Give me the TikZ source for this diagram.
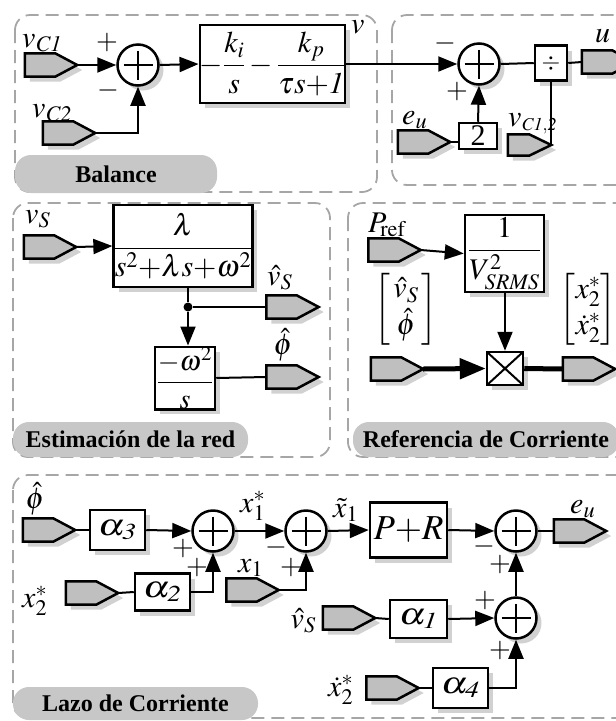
\documentclass[tikz,border=0pt]{standalone}
\usepackage{amsmath}
\usepackage{graphicx}
\IfFileExists{mathptmx.sty}{\usepackage{mathptmx}}{}
\usepackage[no-math]{fontspec}
\setmainfont{Liberation Serif}
\usetikzlibrary{arrows.meta,shadows}

\def\wide#1{\scalebox{1.35}[1.1]{#1}}

\tikzset{
	shd/.style={drop shadow={shadow xshift=5pt, shadow yshift=-5pt, fill=black!18, opacity=1}},
	blk/.style={draw, line width=2.5pt, fill=white, inner sep=0pt, shd, font=\fontsize{28}{30}\selectfont},
	port/.style={inner sep=0pt, minimum width=52pt, minimum height=23pt,
		append after command={\pgfextra{
			\fill[black!18] ([shift={(5pt,-5pt)}]\tikzlastnode.north west) -- ([shift={(-17pt,-5pt)}]\tikzlastnode.north east)
				-- ([shift={(5pt,-5pt)}]\tikzlastnode.east) -- ([shift={(-17pt,-5pt)}]\tikzlastnode.south east)
				-- ([shift={(5pt,-5pt)}]\tikzlastnode.south west) -- cycle;
			\draw[line width=2.5pt, fill=black!25] (\tikzlastnode.north west) -- ([xshift=-22pt]\tikzlastnode.north east)
				-- (\tikzlastnode.east) -- ([xshift=-22pt]\tikzlastnode.south east) -- (\tikzlastnode.south west) -- cycle;}}},
	sum/.style={circle, draw, line width=2.5pt, fill=white, inner sep=0pt, minimum size=41pt, shd,
		path picture={\draw[line width=2.5pt] ([yshift=-6pt]path picture bounding box.north) -- ([yshift=6pt]path picture bounding box.south);
			\draw[line width=2.5pt] ([xshift=6pt]path picture bounding box.west) -- ([xshift=-6pt]path picture bounding box.east);}},
	con/.style={line width=2pt},
	arr/.style={line width=2pt, -{Triangle[length=19pt, width=15pt]}},
	thk/.style={line width=5pt},
	thkarr/.style={line width=5pt, -{Triangle[length=26pt, width=20pt]}},
	lbl/.style={inner sep=0pt, font=\fontsize{30}{30}\selectfont},
	sgn/.style={inner sep=0pt, font=\fontsize{28}{28}\selectfont},
	panel/.style={draw=black!35, line width=1.8pt, dash pattern=on 13pt off 7pt, rounded corners=15pt},
	tag/.style={fill=black!22, rounded corners=16pt, inner sep=0pt, font=\fontsize{24}{24}\selectfont\bfseries}
}

\begin{document}
\begin{tikzpicture}[x=1pt, y=-1pt]
			%%%%% START %%%%%
			\useasboundingbox (0, 0) rectangle (616, 721);
			\clip (0, 0) rectangle (616, 721);
			
			% panels
			\draw[panel] (15, 15) rectangle (377, 192);
			\draw[panel] (392, 15) rectangle (660, 185);
			\draw[panel] (13, 203) rectangle (330, 457);
			\draw[panel] (348, 203) rectangle (660, 457);
			\draw[panel] (13, 475) rectangle (660, 718);
			
			\node[tag, minimum width=202pt, minimum height=38pt] (tbal) at (116, 174) {Balance};
			\node[tag, minimum width=235pt, minimum height=35pt] (test) at (130.5, 439.5) {Estimación de la red};
			\node[tag, minimum width=266pt, minimum height=35pt] (tref) at (486, 439.5) {Referencia de Corriente};
			\node[tag, minimum width=245pt, minimum height=33pt] (tlaz) at (135.5, 703.5) {Lazo de Corriente};
			
			%%%%% Balance %%%%%
			\node[port] (vc1) at (51, 65) {};
			\node[port] (vc2) at (69, 133) {};
			\node[sum] (s1) at (138, 65) {};
			\node[blk, minimum width=141pt, minimum height=78pt, font=\fontsize{30}{32}\selectfont] (b1) at (272.5, 64) {$-\dfrac{k_i}{s}-\dfrac{k_p}{\tau s{+}\mathit{1}}$};
			\node[lbl, anchor=base west] (lvc1) at (22, 47) {$v_{\mathit{C1}}$};
			\node[lbl, anchor=base west] (lvc2) at (32, 117) {$v_{\mathit{C2}}$};
			\node[lbl, anchor=base west] (lv) at (351, 33) {$v$};
			\node[sgn] (p1) at (107, 43) {$+$};
			\node[sgn] (m1) at (108, 90) {$-$};
			
			\node[sum] (s2) at (479, 64) {};
			
			\draw[arr] (vc1.east) -- (s1.west);
			\draw[arr] (vc2.east) -| (s1.south);
			\draw[arr] (s1.east) -- (b1.west);
			\draw[arr] (b1.east) -- (s2.west);
			
			%%%%% u %%%%%
			\node[blk, minimum width=38pt, minimum height=26pt, font=\fontsize{30}{30}\selectfont] (k2) at (478, 136) {2};
			\node[port] (eu) at (424, 142) {};
			\node[blk, minimum width=32pt, minimum height=35pt, font=\fontsize{24}{24}\selectfont] (dv) at (551, 63) {$\div$};
			\node[port, minimum width=43pt, minimum height=21pt] (vc12) at (529.5, 145) {};
			\node[port] (u) at (608, 62) {};
			\node[lbl, anchor=base west] (leu) at (402, 124) {$e_u$};
			\node[lbl, anchor=base west] (lvc12) at (508, 126) {$v_{\scriptscriptstyle\mathit{C1,2}}$};
			\node[lbl, anchor=base west] (lu) at (595, 42) {$u$};
			\node[sgn] (m2) at (445, 43) {$-$};
			\node[sgn] (p2) at (457, 92) {$+$};
			
			\draw[arr] (k2.north) -- (s2.south);
			\draw[con] (eu.east) -- (eu.east -| k2.west);
			\draw[con] (s2.east) -- (dv.west);
			\draw[con] (vc12.east) -- (vc12.east |- dv.south);
			\draw[con] (dv.east) -- (u.west);
			
			%%%%% Estimacion %%%%%
			\node[port] (vs) at (50, 247) {};
			\node[blk, minimum width=130pt, minimum height=82pt, font=\fontsize{30}{32}\selectfont] (lam) at (183, 246) {$\dfrac{\lambda}{s^2{+}\lambda s{+}\omega^2}$};
			\node[circle, fill, inner sep=0pt, minimum size=9pt] (dt) at (188, 307) {};
			\node[port] (vh) at (292.5, 307) {};
			\node[blk, minimum width=60pt, minimum height=55pt] (wb) at (185, 378) {$\dfrac{-\omega^2}{s}$};
			\node[port] (ph) at (292.5, 377) {};
			\node[lbl, anchor=base west] (lvs) at (25, 223) {$v_S$};
			\node[lbl, anchor=base west] (lvh) at (267, 285) {$\hat{v}_S$};
			\node[lbl] (lph) at (283, 345) {$\hat{\phi}$};
			
			\draw[arr] (vs.east) -- (lam.west);
			\draw[con] (lam.south -| dt) -- (dt);
			\draw[con] (dt) -- (vh.west);
			\draw[arr] (dt) -- (dt |- wb.north);
			\draw[con] (wb.east) -- (ph.west);
			
			%%%%% Referencia %%%%%
			\node[port] (pr) at (394.5, 250) {};
			\node[blk, minimum width=79pt, minimum height=77pt, font=\fontsize{30}{32}\selectfont] (vb) at (504.5, 253.5) {$\dfrac{1}{V^2_{\mathit{SRMS}}}$};
			\node[blk, minimum width=36pt, minimum height=33pt,
				path picture={\draw[line width=2pt] (path picture bounding box.north west) -- (path picture bounding box.south east)
					(path picture bounding box.south west) -- (path picture bounding box.north east);}] (mx) at (505, 368.5) {};
			\node[port] (vp) at (397, 369) {};
			\node[port] (xo) at (589, 369) {};
			\node[lbl, anchor=base west] (lpr) at (368, 232) {$P_{\!\mathrm{ref}}$};
			\node[lbl] (mvp) at (406, 309) {\renewcommand\arraystretch{1.2}$\begin{bmatrix}\,\hat{v}_S\,\\ \hat{\phi}\end{bmatrix}$};
			\node[lbl] (mxo) at (588, 309) {\renewcommand\arraystretch{1.2}$\begin{bmatrix}x_2^*\\ \dot{x}_2^*\end{bmatrix}$};
			
			\draw[arr] (pr.east) -- (vb.west);
			\draw[arr] (mx.north |- vb.south) -- (mx.north);
			\draw[thkarr] (vp.east) -- (mx.west);
			\draw[thk] (mx.east) -- (xo.west);
			
			%%%%% Lazo %%%%%
			\node[port] (ph5) at (49, 530) {};
			\node[blk, minimum width=55pt, minimum height=40pt] (a3) at (117.5, 530) {\wide{$\alpha_{\mathit{3}}$}};
			\node[sum] (sa) at (213, 531) {};
			\node[port] (x2) at (92, 593) {};
			\node[blk, minimum width=55pt, minimum height=37pt] (a2) at (162.5, 592) {\wide{$\alpha_{\mathit{2}}$}};
			\node[sum] (sb) at (306, 531) {};
			\node[port] (x1) at (252.5, 590) {};
			\node[blk, minimum width=77pt, minimum height=55pt, font=\fontsize{35}{35}\selectfont] (pr5) at (408.5, 530) {$P{+}R$};
			\node[sum] (sc) at (516, 531) {};
			\node[port] (eo) at (580, 531) {};
			\node[sum] (sd) at (516, 618) {};
			\node[port] (vs5) at (349, 618) {};
			\node[blk, minimum width=57pt, minimum height=38pt] (a1) at (418.5, 619) {\wide{$\alpha_{\mathit{1}}$}};
			\node[port] (xd) at (392.5, 688) {};
			\node[blk, minimum width=55pt, minimum height=40pt] (a4) at (460.5, 688) {\wide{$\alpha_{\mathit{4}}$}};
			
			\node[lbl] (lph5) at (35, 499) {$\hat{\phi}$};
			\node[lbl, anchor=base west] (lx2) at (22, 607) {$x_2^*$};
			\node[lbl, anchor=base west] (lx1s) at (240, 512) {$x_1^*$};
			\node[lbl, anchor=base west] (lx1) at (238, 572) {$x_1$};
			\node[lbl, anchor=base west] (lxt) at (333, 517) {$\tilde{x}_1$};
			\node[lbl, anchor=base west] (leo) at (570, 513) {$e_u$};
			\node[lbl, anchor=base east] (lvs5) at (316, 628) {$\hat{v}_S$};
			\node[lbl, anchor=base west] (lxd) at (328, 696) {$\dot{x}_2^*$};
			
			\node[sgn] (pa1) at (183, 548) {$+$};
			\node[sgn] (pa2) at (197, 567) {$+$};
			\node[sgn] (mb1) at (276, 547) {$-$};
			\node[sgn] (pb2) at (291, 567) {$+$};
			\node[sgn] (mc1) at (484, 546) {$-$};
			\node[sgn] (pc2) at (500, 564) {$+$};
			\node[sgn] (pd1) at (485, 600) {$+$};
			\node[sgn] (pd2) at (500, 650) {$+$};
			
			\draw[con] (ph5.east) -- (a3.west);
			\draw[arr] (a3.east) -- (sa.west);
			\draw[con] (x2.east) -- (a2.west);
			\draw[arr] (a2.east) -| (sa.south);
			\draw[arr] (sa.east) -- (sb.west);
			\draw[arr] (x1.east) -| (sb.south);
			\draw[arr] (sb.east) -- (pr5.west);
			\draw[arr] (pr5.east) -- (sc.west);
			\draw[con] (sc.east) -- (eo.west);
			\draw[con] (vs5.east) -- (a1.west);
			\draw[arr] (a1.east) -- (sd.west);
			\draw[con] (xd.east) -- (a4.west);
			\draw[arr] (a4.east) -| (sd.south);
			\draw[arr] (sd.north) -- (sc.south);
			
			%%%%% END %%%%%
		\end{tikzpicture}
\end{document}
